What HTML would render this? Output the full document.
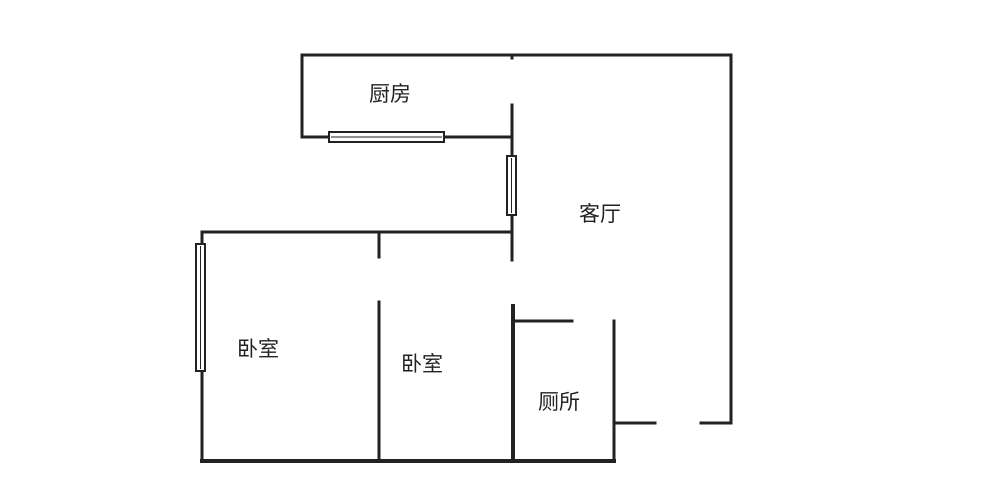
<!DOCTYPE html>
<html><head><meta charset="utf-8"><style>
html,body{margin:0;padding:0;background:#fff;}
</style></head><body>
<svg width="1000" height="475" viewBox="0 0 1000 475" xmlns="http://www.w3.org/2000/svg">
<g stroke="#222" stroke-width="3" fill="none" stroke-linecap="square">
<polyline points="302,137 302,55 731,55 731,423 701,423"/>
<line x1="614" y1="423" x2="655" y2="423"/>
<line x1="302" y1="137" x2="512" y2="137"/>
<line x1="512" y1="55" x2="512" y2="58"/>
<line x1="512" y1="105" x2="512" y2="260"/>
<polyline points="202,232 512,232"/>
<line x1="202" y1="232" x2="202" y2="461"/>
<line x1="202" y1="461" x2="614" y2="461" stroke-width="4"/>
<line x1="379" y1="232" x2="379" y2="257"/>
<line x1="379" y1="302" x2="379" y2="461"/>
<line x1="513" y1="306" x2="513" y2="461" stroke-width="4"/>
<line x1="513" y1="321" x2="572" y2="321"/>
<line x1="614" y1="321" x2="614" y2="461"/>
</g>
<g stroke="#222" stroke-width="2" fill="#fff">
<rect x="329" y="132" width="115" height="10"/>
<rect x="507" y="156" width="9" height="59"/>
<rect x="196" y="244" width="9" height="127"/>
</g>
<g stroke="#222" stroke-width="1"><line x1="331" y1="137" x2="442" y2="137"/><line x1="511.5" y1="158" x2="511.5" y2="213"/><line x1="200.5" y1="246" x2="200.5" y2="369"/></g>
<g font-family="'Liberation Sans','Noto Sans CJK SC',sans-serif" font-size="21" fill="#222" text-anchor="middle">
<text x="390" y="101">厨房</text>
<text x="600" y="221">客厅</text>
<text x="258" y="356">卧室</text>
<text x="422" y="371">卧室</text>
<text x="559" y="409">厕所</text>
</g>
</svg>
</body></html>
